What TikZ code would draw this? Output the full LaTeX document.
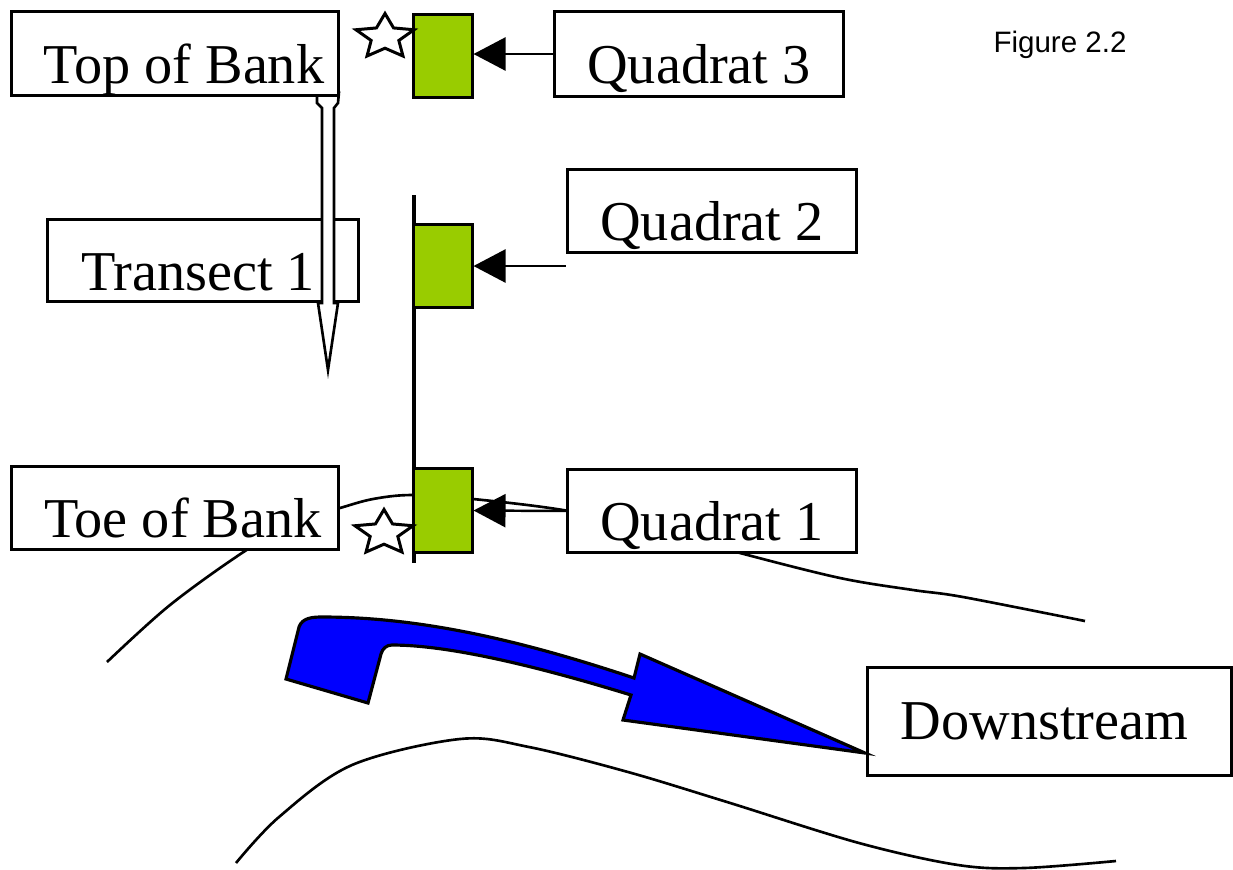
\documentclass[tikz,border=0pt]{standalone}
\usepackage{fontspec}
\setmainfont{Liberation Serif}
\newfontfamily\figfont{Liberation Sans}
\usetikzlibrary{arrows.meta}
\usetikzlibrary{shapes.geometric}
\definecolor{quadgreen}{HTML}{99CC00}
\definecolor{riverblue}{HTML}{0000FF}
\tikzset{
  mybox/.style={
    draw=black,
    fill=white,
    shape=rectangle,
    line width=0.85pt,
    inner sep=0pt,
    text height=17pt,
    text depth=0pt,
    font=\fontsize{16}{18}\selectfont
  },
  myquad/.style={
    draw=black,
    fill=quadgreen,
    line width=0.85pt,
    minimum width=0.58cm,
    minimum height=0.82cm,
    inner sep=0pt
  },
  myarrow/.style={
    draw=black,
    line width=0.7pt,
    arrows={Triangle[length=0.32cm,width=0.33cm]-}
  },
  mystar/.style={
    draw=black,
    fill=white,
    star,
    star points=5,
    star point ratio=2.1,
    minimum size=0.47cm,
    inner sep=0pt,
    xscale=1.3,
    line width=0.85pt
  },
  mybank/.style={
    draw=black,
    line width=0.75pt
  }
}

\begin{document}
\begin{tikzpicture}[x=0.01cm, y=-0.01cm]
    \useasboundingbox (0,0) rectangle (1233,869);

    % banks of the stream
    \draw [mybank] plot [smooth, tension=0.55] coordinates {(107,662) (170,605) (245,551) (300,520) (340,508) (373,499) (412,495) (473,499) (563,510) (650,528) (740,553) (840,578) (913,590) (963,597) (1085,621)};
    \draw [mybank] plot [smooth, tension=0.55] coordinates {(236,863) (279,817) (352,765) (460,739) (529,747) (628,772) (727,802) (859,843) (958,865) (1024,868) (1116,861)};

    \coordinate (tTop) at (414,195);
    \coordinate (tBot) at (414,563);
    \draw [line width=1.1pt] (tTop) -- (tBot);

    \node [mybox, minimum width=3.10cm, minimum height=0.81cm] (Transect) at (203,260.5) {Transect 1\hspace*{0.1cm}};
    \draw [fill=white, line width=0.75pt] (322,303) -- (322,108) -- (317,103) -- (317,92) -- (328,62) -- (339,92) -- (338,103) -- (334,108) -- (334,303) -- (338,303) -- (328,370) -- (318,303) -- cycle;

    \node [mybox, minimum width=3.26cm, minimum height=0.83cm] (TopBank) at (175,53.5) {\hspace*{0.18cm}Top of Bank};
    \node [mybox, minimum width=3.26cm, minimum height=0.82cm] (ToeBank) at (175,508) {\hspace*{0.16cm}Toe of Bank};
    \node [mybox, minimum width=2.88cm, minimum height=0.84cm] (Quad3) at (699,54) {Quadrat 3};
    \node [mybox, minimum width=2.88cm, minimum height=0.82cm] (Quad2) at (712,211) {Quadrat 2};
    \node [mybox, minimum width=2.88cm, minimum height=0.82cm] (Quad1) at (712,511) {Quadrat 1};
    \node [mybox, text height=10.5pt, minimum width=3.63cm, minimum height=1.07cm] (Down) at (1049.5,721.5) {Downstream\hspace*{0.1cm}};

    \node [myquad] (Sq3) at (443,56) {};
    \node [myquad] (Sq2) at (443,266) {};
    \node [myquad, minimum height=0.83cm] (Sq1) at (443,510.5) {};
    \draw [myarrow] (Sq3.east |- Quad3.west) -- (Quad3.west);
    \draw [myarrow] (Sq2.east) -- (Sq2.east -| Quad2.west);
    \draw [myarrow] (Sq1.east) -- (Quad1.west);

    \node [mystar] (Star3) at (385,37) {};
    \node [mystar] (Star1) at (384,533) {};

    % direction of flow
    \draw [fill=riverblue, line width=0.9pt] (286,679) -- (299,627) to[out=70, in=180] (322,617) .. controls (420,617) and (520,640) .. (634,678) -- (640,654) -- (865,753) -- (623,720) -- (631,695) .. controls (540,667) and (450,645) .. (392,645) to[out=180, in=75] (381,654) -- (368,703) -- cycle;

    \node [font=\figfont\fontsize{8.4}{10}\selectfont] (Fig) at (1060,45) {Figure 2.2};
\end{tikzpicture}
\end{document}
